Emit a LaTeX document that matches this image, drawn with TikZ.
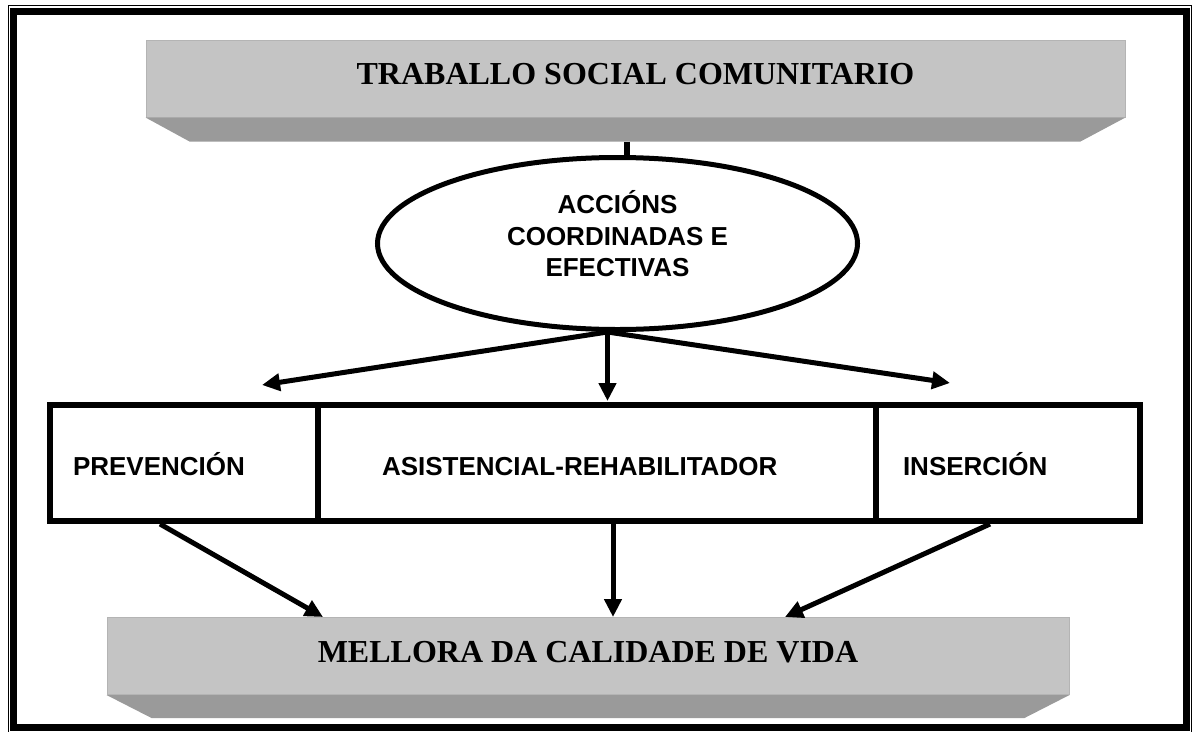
\documentclass[tikz,border=0pt]{standalone}
\usepackage{fontspec}
\setmainfont{Liberation Serif}
\newfontfamily\arialfont{Liberation Sans}
\usetikzlibrary{shapes.geometric,arrows.meta}
\definecolor{bandface}{RGB}{196,196,196}
\definecolor{bandshade}{RGB}{154,154,154}
\definecolor{bandedge}{RGB}{180,180,180}

\begin{document}
\begin{tikzpicture}[x=1pt,y=-1pt,
    banner/.style={fill=bandface,draw=bandedge,line width=1pt,minimum height=77pt,
      inner sep=0pt,text depth=9pt,font=\fontsize{32}{38}\selectfont\bfseries},
    cell/.style={draw,line width=6pt,minimum height=116pt,align=left,inner ysep=0pt,
      text height=25pt,text depth=0pt,font=\arialfont\fontsize{26}{31}\selectfont\bfseries},
    conn/.style={line width=5pt},
    arr/.style={conn,-{Triangle[length=18pt,width=17pt]}}]
    \useasboundingbox (0,0) rectangle (1193,731);
    % page frame
    \draw[line width=1pt] (8,5.2) rectangle (1191.8,733.5);
    \draw[line width=7pt] (13.8,11.3) rectangle (1186.8,727.2);
    % banners
    \node[banner,minimum width=979pt] (tsc) at (635.5,78.5) {TRABALLO SOCIAL COMUNITARIO};
    \node[banner,minimum width=962pt] (mel) at (588,656) {MELLORA DA CALIDADE DE VIDA};
    \fill[bandshade] (tsc.south west) -- (tsc.south east) -- ++(-45,24)
      -- ([xshift=44pt,yshift=-24pt]tsc.south west) -- cycle;% top shadow
    \fill[bandshade] (mel.south west) -- (mel.south east) -- ++(-45,23)
      -- ([xshift=45pt,yshift=-23pt]mel.south west) -- cycle;% bottom shadow
    % centre ellipse
    \node[ellipse,draw,line width=5pt,fill=white,minimum width=480pt,minimum height=172pt,
      inner sep=0pt,align=center,text depth=20pt,
      font=\arialfont\fontsize{26}{31.5}\selectfont\bfseries] (acc) at (617.5,243.5)
      {ACCIÓNS\\COORDINADAS E\\EFECTIVAS};
    \draw[line width=6pt] ([xshift=-8.5pt,yshift=-24pt]tsc.south)
      -- ([xshift=-8.5pt]tsc.south |- acc.north);
    % row of boxes
    \node[cell,text width=222pt,inner xsep=23pt] (prev) at (184,463) {PREVENCIÓN};
    \node[cell,text width=430pt,inner xsep=64pt] (asis) at (597,463) {ASISTENCIAL-REHABILITADOR};
    \node[cell,text width=210pt,inner xsep=27pt] (ins) at (1008,463) {INSERCIÓN};
    % arrows from the ellipse
    \coordinate (fork) at ([xshift=-10pt]acc.south);
    \coordinate (tipL) at (262,385);
    \coordinate (tipM) at (607.5,401);
    \coordinate (tipR) at (950,383);
    \draw[arr] (fork) -- (tipL);
    \draw[arr] (fork) -- (tipM);
    \draw[arr] (fork) -- (tipR);
    % arrows to the bottom banner
    \draw[arr] ([xshift=113pt]prev.south west) -- ([xshift=216.5pt]mel.north west);
    \draw[arr] ([xshift=298pt]asis.south west) -- ([xshift=506.5pt]mel.north west);
    \draw[arr] ([xshift=117pt]ins.south west) -- ([xshift=678.5pt]mel.north west);
\end{tikzpicture}
\end{document}
